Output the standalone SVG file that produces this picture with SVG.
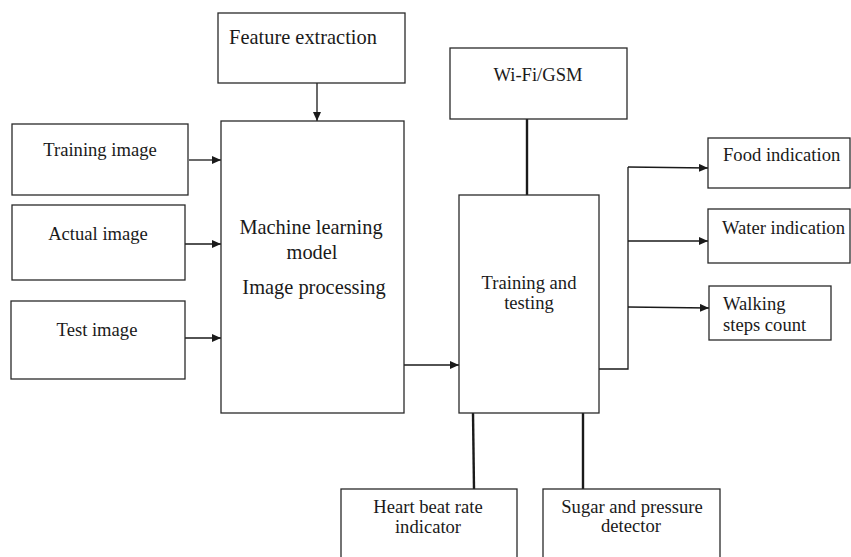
<svg xmlns="http://www.w3.org/2000/svg" width="851" height="557" viewBox="0 0 851 557">
  <style>
    .box { fill: #ffffff; stroke: #2a2a2a; stroke-width: 1.3; }
    .lbl { font-family: "Liberation Serif", "Times New Roman", serif; font-size: 18.6px; fill: #1a1a1a; }
    .big { font-size: 20.4px; }
    .c { text-anchor: middle; }
    .arrow { fill: none; stroke: #1a1a1a; stroke-width: 1.3; marker-end: url(#head); }
    .wire { fill: none; stroke: #1a1a1a; stroke-width: 1.3; }
    .bus { fill: none; stroke: #1a1a1a; stroke-width: 2.4; }
  </style>
  <defs>
    <marker id="head" markerWidth="10" markerHeight="8" refX="9" refY="4" orient="auto" markerUnits="userSpaceOnUse">
      <path d="M0,0 L9,4 L0,8 Z" fill="#1a1a1a"/>
    </marker>
  </defs>
  <rect width="851" height="557" fill="#ffffff"/>

  <g id="connectors">
    <line class="arrow" x1="317" y1="83" x2="317" y2="121"/>
    <line class="arrow" x1="189" y1="160" x2="221" y2="160"/>
    <line class="arrow" x1="185" y1="244" x2="221" y2="244"/>
    <line class="arrow" x1="185" y1="338" x2="221" y2="338"/>
    <line class="arrow" x1="404" y1="365" x2="459" y2="365"/>
    <line class="bus" x1="527" y1="119" x2="527" y2="195"/>
    <polyline class="wire" points="599,369 628,369 628,167"/>
    <line class="arrow" x1="628" y1="167" x2="708" y2="168"/>
    <line class="arrow" x1="628" y1="241" x2="708" y2="241"/>
    <line class="arrow" x1="628" y1="307" x2="709" y2="308"/>
    <line class="bus" x1="473" y1="413" x2="474" y2="489"/>
    <line class="bus" x1="583" y1="413" x2="583" y2="489"/>
  </g>

  <g id="feature-extraction">
    <rect class="box" x="218" y="13" width="187" height="70"/>
    <text class="lbl big c" x="303" y="44">Feature extraction</text>
  </g>

  <g id="training-image">
    <rect class="box" x="12" y="124" width="176" height="71"/>
    <text class="lbl c" x="100" y="156">Training image</text>
  </g>

  <g id="actual-image">
    <rect class="box" x="12" y="205" width="173" height="75"/>
    <text class="lbl c" x="98" y="240">Actual image</text>
  </g>

  <g id="test-image">
    <rect class="box" x="11" y="301" width="174" height="78"/>
    <text class="lbl c" x="97" y="336">Test image</text>
  </g>

  <g id="ml-model">
    <rect class="box" x="221" y="121" width="183" height="292"/>
    <text class="lbl big c" x="311" y="234">Machine learning</text>
    <text class="lbl big c" x="312" y="259">model</text>
    <text class="lbl big c" x="314" y="294">Image processing</text>
  </g>

  <g id="wifi-gsm">
    <rect class="box" x="450" y="48" width="177" height="71"/>
    <text class="lbl c" x="538" y="81">Wi-Fi/GSM</text>
  </g>

  <g id="training-testing">
    <rect class="box" x="459" y="195" width="140" height="218"/>
    <text class="lbl c" x="529" y="289">Training and</text>
    <text class="lbl c" x="529" y="309">testing</text>
  </g>

  <g id="food-indication">
    <rect class="box" x="708" y="138" width="142" height="50"/>
    <text class="lbl" x="723" y="161">Food indication</text>
  </g>

  <g id="water-indication">
    <rect class="box" x="708" y="209" width="142" height="54"/>
    <text class="lbl" x="722" y="234">Water indication</text>
  </g>

  <g id="walking-steps">
    <rect class="box" x="709" y="286" width="122" height="54"/>
    <text class="lbl" x="723" y="310">Walking</text>
    <text class="lbl" x="723" y="331">steps count</text>
  </g>

  <g id="heart-rate">
    <rect class="box" x="341" y="489" width="176" height="75"/>
    <text class="lbl c" x="428" y="513">Heart beat rate</text>
    <text class="lbl c" x="428" y="533">indicator</text>
  </g>

  <g id="sugar-pressure">
    <rect class="box" x="543" y="489" width="177" height="75"/>
    <text class="lbl c" x="632" y="513">Sugar and pressure</text>
    <text class="lbl c" x="631" y="532">detector</text>
  </g>
</svg>
